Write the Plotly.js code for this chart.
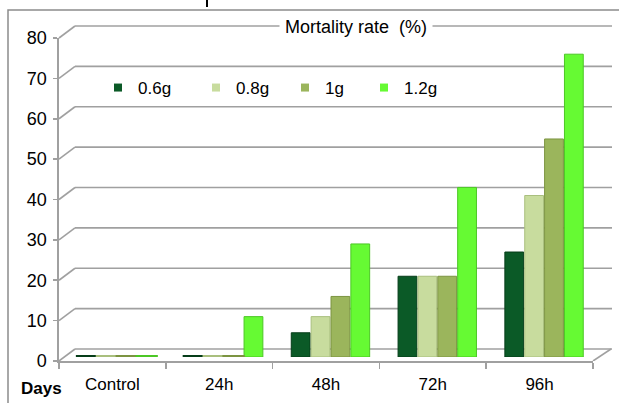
<!DOCTYPE html>
<html>
<head>
<meta charset="utf-8">
<script src="https://cdn.plot.ly/plotly-3.0.1.min.js"></script>
<style>html,body{margin:0;padding:0;background:#fff;}#chart{width:619px;height:403px;}</style>
</head>
<body>
<div id="chart"></div>
<script>
// ---- data ----
const categories = ["Control", "24h", "48h", "72h", "96h"];
const seriesNames = ["0.6g", "0.8g", "1g", "1.2g"];
const s06 = [0, 0, 6, 20, 26];
const s08 = [0, 0, 10, 20, 40];
const s1 = [0, 0, 15, 20, 54];
const s12 = [0, 10, 28, 42, 75];
const yTicks = [0, 10, 20, 30, 40, 50, 60, 70, 80];
const chartTitle = "Mortality rate  (%)";
const xTitle = "Days";

// ---- styling ----
const W = 619, H = 403;
const colors = ["#0b5a27", "#c8dc9e", "#9bb55c", "#66fa33"];
const lineColors = ["#063d19", "#a9bf7e", "#7c9441", "#4cc725"];
const legendPx = [98, 196, 285, 364];
const gridColor = "#a0a0a0";
const font = "Liberation Sans, Arial, sans-serif";
const px = v => v / W;
const py = v => 1 - v / H;

// front panel pixel frame
const fx0 = 59, fx1 = 593, fy0 = 361, fyTop = 38;
const unitPx = (fy0 - fyTop) / (yTicks[yTicks.length - 1] - yTicks[0]);
const backTop = 5;

const seriesVals = [s06, s08, s1, s12];
const slot = 0.186, bw = 0.176;

const traces = [];
seriesVals.forEach((vals, i) => {
  traces.push({
    type: "bar", x: categories, y: vals, name: seriesNames[i],
    xaxis: "x", yaxis: "y",
    offset: -2 * slot + i * slot, width: bw,
    marker: {color: colors[i], line: {color: lineColors[i], width: 1}},
    showlegend: false, hoverinfo: "x+y+name"
  });
});
// zero-height discs
seriesVals.forEach((vals, i) => {
  const xs = [], ys = [];
  vals.forEach((v, j) => { if (v === 0) { xs.push(j - 2 * slot + i * slot + bw / 2); ys.push(0); } });
  traces.push({
    type: "scatter", mode: "markers", x: xs, y: ys, xaxis: "x3", yaxis: "y",
    marker: {symbol: "line-ew-open", size: 16, color: lineColors[i], line: {color: lineColors[i], width: 4}},
    showlegend: false, hoverinfo: "skip"
  });
});
// legend entries (one legend per series, positioned like the original)
const legendKeys = seriesNames.map((n, i) => i === 0 ? "legend" : "legend" + (i + 1));
seriesNames.forEach((n, i) => {
  traces.push({
    type: "scatter", mode: "markers", x: [null], y: [null], name: n,
    xaxis: "x", yaxis: "y", legend: legendKeys[i],
    marker: {symbol: "square", size: 8, color: colors[i]}, showlegend: true
  });
});
// front axes carrier
traces.push({type: "scatter", mode: "markers", x: categories, y: categories.map(() => 0),
  xaxis: "x2", yaxis: "y2", marker: {opacity: 0}, showlegend: false, hoverinfo: "skip"});
// back-wall axis carrier
traces.push({type: "scatter", mode: "markers", x: categories, y: categories.map(() => 0),
  xaxis: "x2", yaxis: "y4", marker: {opacity: 0}, showlegend: false, hoverinfo: "skip"});

const shapes = [];
// chart border
shapes.push({type: "rect", xref: "paper", yref: "paper", x0: px(8), x1: px(640), y0: py(10), y1: py(420),
  line: {color: "#8c8c8c", width: 1.5}, layer: "below"});
// cropped glyph at top
shapes.push({type: "line", xref: "paper", yref: "paper", x0: px(207), x1: px(207), y0: py(0), y1: py(7),
  line: {color: "#000", width: 2}});
yTicks.forEach(v => {
  shapes.push({type: "line", xref: "paper", yref: "y4", ysizemode: "pixel", yanchor: v,
    x0: px(75), x1: px(612), y0: 12, y1: 12, line: {color: gridColor, width: 1.6}, layer: "below"});
  shapes.push({type: "line", xref: "paper", yref: "y4", ysizemode: "pixel", yanchor: v,
    x0: px(fx0), x1: px(75), y0: 0, y1: 12, line: {color: gridColor, width: 1.6}, layer: "below"});
});
shapes.push({type: "line", xref: "paper", yref: "y4", ysizemode: "pixel", yanchor: yTicks[0],
  x0: px(fx1), x1: px(611), y0: 0, y1: 12, line: {color: gridColor, width: 1.6}, layer: "below"});

const tf = {family: font, size: 18, color: "#000"};
const layout = {
  width: W, height: H,
  margin: {l: 0, r: 0, t: 0, b: 0},
  paper_bgcolor: "#fff", plot_bgcolor: "rgba(0,0,0,0)",
  font: tf,
  barmode: "overlay",
  showlegend: true,
  xaxis: {domain: [px(fx0 + 5), px(fx1 + 5)], anchor: "y", type: "category", range: [-0.5, 4.5],
    visible: false, fixedrange: true},
  yaxis: {domain: [py(fy0 - 4), py(fyTop - 4)], anchor: "x", range: [0, 80], visible: false, fixedrange: true},
  xaxis3: {overlaying: "x", type: "linear", range: [-0.5, 4.5], visible: false},
  xaxis2: {domain: [px(fx0), px(fx1)], anchor: "y2", type: "category", range: [-0.5, 4.5],
    tickson: "boundaries", ticks: "outside", ticklen: 6, tickcolor: gridColor, tickwidth: 1.6,
    showline: true, linecolor: gridColor, linewidth: 1.6, showgrid: false, zeroline: false,
    tickfont: {family: font, size: 17, color: "#000"}, ticklabelstandoff: 7, fixedrange: true},
  yaxis2: {domain: [py(fy0), py(fyTop)], anchor: "x2", range: [0, 80], tickvals: yTicks,
    ticks: "outside", ticklen: 4, tickcolor: gridColor, tickwidth: 1.6,
    showline: true, linecolor: gridColor, linewidth: 1.6, showgrid: false, zeroline: false,
    tickfont: tf, ticklabelstandoff: 3, fixedrange: true},
  yaxis4: {domain: [py(fy0), py(backTop)], anchor: "x2", range: [0, (fy0 - backTop) / unitPx],
    visible: false, fixedrange: true},
  annotations: [
    {text: chartTitle, xref: "paper", yref: "paper", x: px(356), y: py(27), xanchor: "center", yanchor: "middle",
      showarrow: false, bgcolor: "#fff", borderpad: 5, font: {family: font, size: 18, color: "#000"}},
    {text: "<b>" + xTitle + "</b>", xref: "paper", yref: "paper", x: px(19), y: py(388), xanchor: "left", yanchor: "middle",
      showarrow: false, font: {family: font, size: 17, color: "#000"}}
  ],
  shapes: shapes
};
legendKeys.forEach((k, i) => {
  layout[k] = {orientation: "h", x: px(legendPx[i]), y: py(88), xanchor: "left", yanchor: "middle",
    font: {family: font, size: 17, color: "#000"}, bgcolor: "rgba(0,0,0,0)", itemwidth: 30};
});

Plotly.newPlot("chart", traces, layout, {displayModeBar: false, staticPlot: true});
</script>
</body>
</html>
